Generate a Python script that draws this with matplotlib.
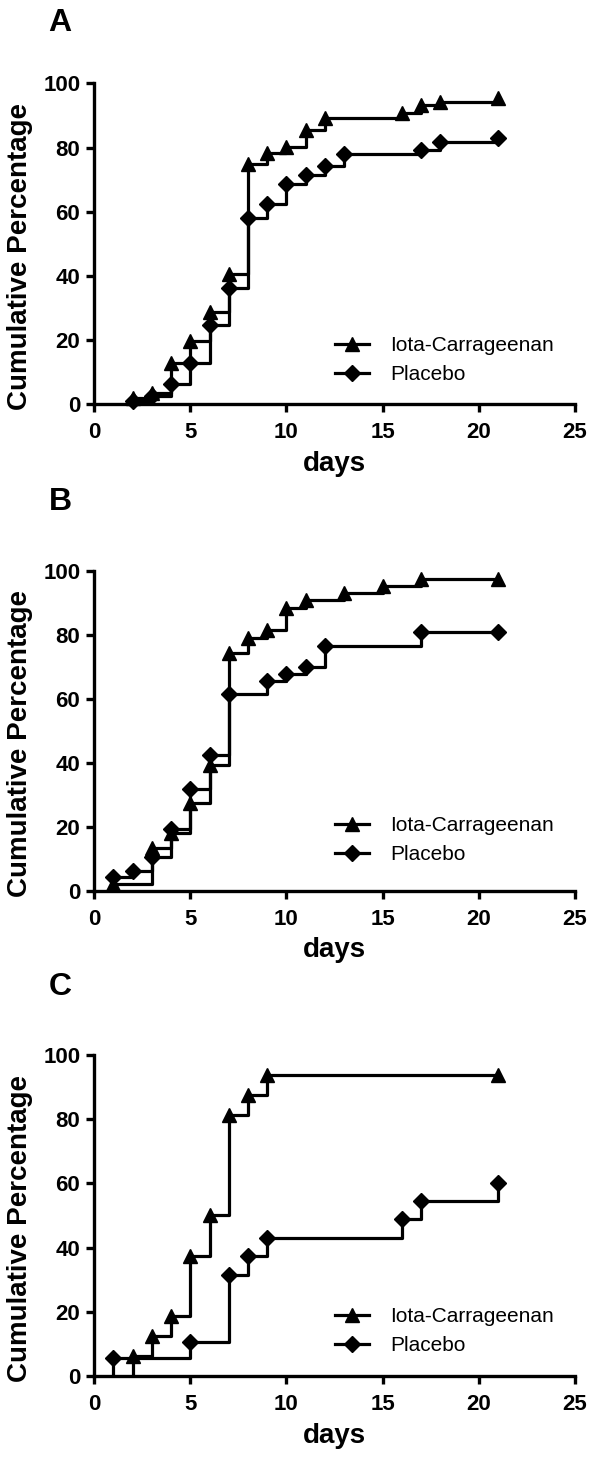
import matplotlib
matplotlib.use("Agg")
import matplotlib.pyplot as plt

plt.rcParams['font.family'] = ['Liberation Sans', 'DejaVu Sans']

# Panel A
iota_days_a = [2, 3, 4, 5, 6, 7, 8, 9, 10, 11, 12, 16, 17, 18, 21]
iota_a = [1.8, 3.5, 12.9, 19.7, 28.8, 40.7, 75.0, 78.3, 80.2, 85.6, 89.3, 90.8, 93.4, 94.3, 95.5]
placebo_days_a = [2, 3, 4, 5, 6, 7, 8, 9, 10, 11, 12, 13, 17, 18, 21]
placebo_a = [0.9, 2.5, 6.4, 12.9, 24.6, 36.3, 58.1, 62.3, 68.5, 71.3, 74.1, 77.9, 79.1, 81.6, 82.9]

# Panel B
iota_days_b = [1, 3, 4, 5, 6, 7, 8, 9, 10, 11, 13, 15, 17, 21]
iota_b = [2.2, 13.3, 18.1, 27.6, 39.4, 74.5, 79.0, 81.6, 88.3, 90.9, 93.2, 95.3, 97.6, 97.6]
placebo_days_b = [1, 2, 3, 4, 5, 6, 7, 9, 10, 11, 12, 17, 21]
placebo_b = [4.3, 6.4, 10.5, 19.3, 31.8, 42.5, 61.6, 65.7, 67.8, 70.1, 76.6, 80.8, 80.8]

# Panel C
iota_days_c = [2, 3, 4, 5, 6, 7, 8, 9, 21]
iota_c = [6.25, 12.5, 18.75, 37.5, 50.0, 81.25, 87.5, 93.75, 93.75]
placebo_days_c = [1, 5, 7, 8, 9, 16, 17, 21]
placebo_c = [5.5, 10.7, 31.5, 37.4, 42.9, 48.8, 54.5, 60.0]

panels = [
    ("A", iota_days_a, iota_a, placebo_days_a, placebo_a),
    ("B", iota_days_b, iota_b, placebo_days_b, placebo_b),
    ("C", iota_days_c, iota_c, placebo_days_c, placebo_c),
]

# axes boxes in figure fractions (left, bottom, width, height), letter y, legend y
boxes = [
    ((0.157, 0.724, 0.801, 0.219), 0.984, 0.137),
    ((0.157, 0.3914, 0.801, 0.2186), 0.657, 0.159),
    ((0.157, 0.0601, 0.801, 0.2193), 0.326, 0.140),
]

fig = plt.figure(figsize=(6, 14.64), dpi=100)

for (letter, xd1, y1, xd2, y2), (box, ly, legy) in zip(panels, boxes):
    ax = fig.add_axes(box)
    for xd, yv, mk, ms, name in [(xd1, y1, '^', 9.5, 'Iota-Carrageenan'),
                                 (xd2, y2, 'D', 8.5, 'Placebo')]:
        # step curve starts from zero at the first day
        ax.step([xd[0]] + xd, [0] + yv, where='post', color='black', lw=2.3)
        ax.plot(xd, yv, linestyle='none', marker=mk, ms=ms, color='black', clip_on=False)
        ax.plot([], [], color='black', lw=2.3, marker=mk, ms=ms, label=name)

    ax.set_xlim(0, 25)
    ax.set_ylim(0, 100)
    ax.set_xticks([0, 5, 10, 15, 20, 25])
    ax.set_yticks([0, 20, 40, 60, 80, 100])
    for s in ['top', 'right']:
        ax.spines[s].set_visible(False)
    for s in ['left', 'bottom']:
        ax.spines[s].set_linewidth(2.4)
    ax.tick_params(direction='out', length=6, width=2.4, labelsize=16, pad=4)
    ax.tick_params(axis='x', pad=7)
    for t in ax.get_xticklabels() + ax.get_yticklabels():
        t.set_fontweight('bold')

    ax.set_ylabel("Cumulative Percentage", fontsize=20, fontweight='bold')
    ax.yaxis.set_label_coords(-0.127, 0.461)
    ax.set_xlabel("days", fontsize=20, fontweight='bold')
    ax.xaxis.set_label_coords(0.5, -0.145)

    ax.legend(loc='center left', bbox_to_anchor=(0.501, legy), frameon=False,
              fontsize=15, numpoints=1, handlelength=1.63, handletextpad=1.0,
              labelspacing=0.5, borderpad=0, borderaxespad=0)

    fig.text(0.1, ly, letter, fontsize=23, fontweight='bold', ha='center', va='center')

fig.savefig("out.png", dpi=100)
